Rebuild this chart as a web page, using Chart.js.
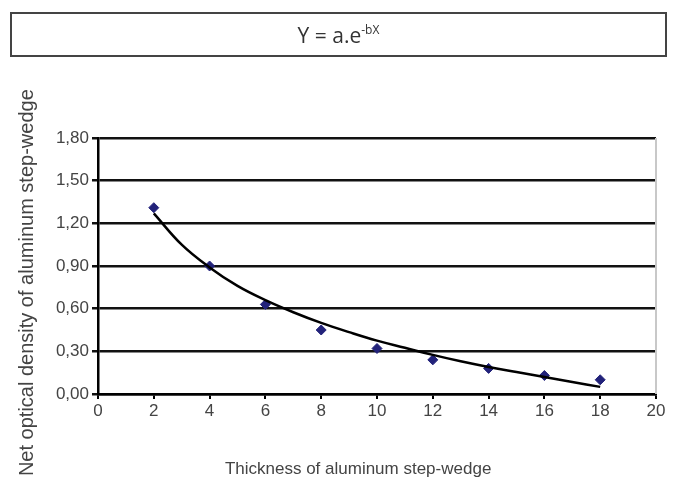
<!DOCTYPE html>
<html>
<head>
<meta charset="utf-8">
<script src="https://cdn.jsdelivr.net/npm/chart.js@4.4.1/dist/chart.umd.min.js"></script>
<style>
  html, body { margin: 0; padding: 0; background: #fff; }
  #wrap { position: relative; width: 679px; height: 481px; }
  #formula {
    position: absolute; left: 10px; top: 12px; width: 653px; height: 41px;
    border: 2px solid #444; text-align: center;
    font-family: "Open Sans", sans-serif; font-size: 21px; line-height: 43px; color: #333;
  }
  #formula sup { font-size: 12px; vertical-align: 9px; line-height: 0; }
</style>
</head>
<body>
<div id="wrap">
  <canvas id="myChart" width="679" height="481"></canvas>
  <div id="formula">Y = a.e<sup>-bX</sup></div>
</div>
<script>
// measured points
const thickness = [2, 4, 6, 8, 10, 12, 14, 16, 18];
const density = [1.31, 0.90, 0.63, 0.45, 0.32, 0.24, 0.18, 0.13, 0.10];

// fitted curve
const trendX = [2, 3, 4, 5, 6, 7, 8, 9, 10, 11, 12, 13, 14, 15, 16, 17, 18];
const trendY = [1.27, 1.05, 0.89, 0.76, 0.66, 0.575, 0.50, 0.435, 0.375, 0.325, 0.275, 0.23, 0.19, 0.155, 0.12, 0.085, 0.05];

const yTicks = [0, 0.3, 0.6, 0.9, 1.2, 1.5, 1.8];

const font = '"Liberation Sans", Arial, sans-serif';

// light gray border on the right side of the plot
const rightBorder = {
  id: 'rightBorder',
  beforeDatasetsDraw(chart) {
    const { ctx, chartArea } = chart;
    ctx.save();
    ctx.strokeStyle = '#c8c8c8';
    ctx.lineWidth = 2;
    ctx.beginPath();
    ctx.moveTo(chartArea.right, chartArea.top);
    ctx.lineTo(chartArea.right, chartArea.bottom);
    ctx.stroke();
    ctx.restore();
  }
};

const ctx = document.getElementById('myChart').getContext('2d');
new Chart(ctx, {
  type: 'scatter',
  data: {
    datasets: [
      {
        label: 'trend',
        type: 'line',
        data: trendX.map((x, i) => ({ x: x, y: trendY[i] })),
        borderColor: '#000',
        borderWidth: 2.5,
        pointRadius: 0,
        tension: 0.4,
        fill: false
      },
      {
        label: 'data',
        data: thickness.map((x, i) => ({ x: x, y: density[i] })),
        pointStyle: 'rectRot',
        pointRadius: 5,
        backgroundColor: '#22227a',
        borderColor: '#22227a',
        borderWidth: 1
      }
    ]
  },
  plugins: [rightBorder],
  options: {
    responsive: false,
    animation: false,
    layout: { padding: { left: 0, top: 138, right: 23, bottom: 0 } },
    plugins: {
      legend: { display: false },
      tooltip: { enabled: false }
    },
    scales: {
      x: {
        type: 'linear',
        min: 0,
        max: 20,
        afterFit: s => { s.height = 87; },
        border: { color: '#000', width: 2.5 },
        grid: { drawOnChartArea: false, drawTicks: true, tickLength: 5, color: '#000', lineWidth: 2 },
        ticks: { stepSize: 2, padding: 2, color: '#444', font: { family: font, size: 17 } },
        title: {
          display: true,
          // trailing spaces push the centred title a bit left, like the original
          text: 'Thickness of aluminum step-wedge        ',
          color: '#444',
          font: { family: font, size: 17 },
          padding: { top: 0, bottom: 1 }
        }
      },
      y: {
        min: 0,
        max: 1.8,
        afterFit: s => { s.width = 98; },
        afterBuildTicks: s => { s.ticks = yTicks.map(v => ({ value: v })); },
        border: { color: '#000', width: 2.5 },
        grid: { color: '#111', lineWidth: 2.5, tickLength: 6 },
        ticks: {
          padding: 3,
          color: '#444',
          font: { family: font, size: 17 },
          callback: v => v.toFixed(2).replace('.', ',')
        },
        title: {
          display: true,
          text: 'Net optical density of aluminum step-wedge      ',
          color: '#444',
          font: { family: font, size: 20 },
          padding: { top: 15, bottom: 0 }
        }
      }
    }
  }
});
</script>
</body>
</html>
